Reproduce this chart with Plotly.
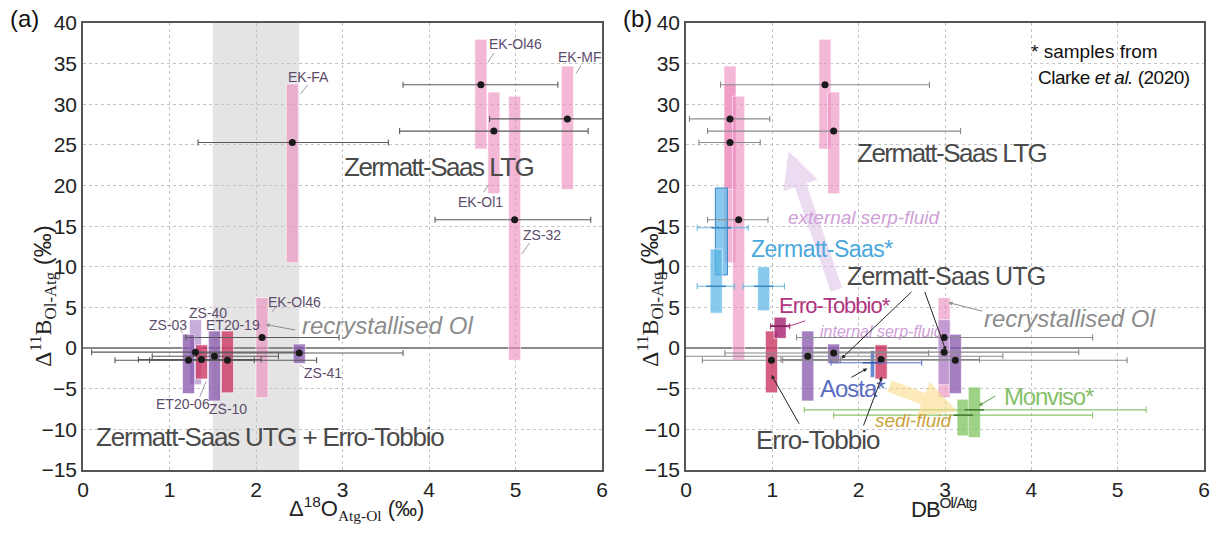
import plotly.graph_objects as go

# ---------------- data: this study ----------------
samples = ["EK-FA", "EK-Ol46", "EK-Ol1", "EK-MF", "ZS-32", "EK-Ol46r",
           "ZS-40", "ZS-03", "ET20-06", "ZS-10", "ET20-19", "ZS-41"]
groups = ["LTG", "LTG", "LTG", "LTG", "LTG", "LTG",
          "ZS-light", "ZS", "ET", "ZS", "ET", "ZS"]
d18O = [2.42, 4.60, 4.75, 5.60, 4.99, 2.07, 1.30, 1.22, 1.37, 1.52, 1.67, 2.50]
d18O_lo = [1.33, 3.70, 3.66, 4.70, 4.07, 1.19, 0.10, 0.37, 0.64, 0.80, 0.77, 1.30]
d18O_hi = [3.53, 5.49, 5.84, 6.90, 5.87, 2.96, 2.50, 1.98, 2.06, 2.26, 2.70, 3.70]
dB = [25.3, 32.4, 26.7, 28.2, 15.8, 1.3, -0.5, -1.5, -1.4, -1.0, -1.5, -0.6]
dB_lo = [10.5, 24.5, 19.0, 19.5, -1.5, -6.1, -4.5, -5.6, -3.8, -6.5, -5.5, -1.9]
dB_hi = [32.5, 38.0, 31.5, 34.7, 31.0, 6.2, 3.5, 1.7, 0.4, 2.1, 2.1, 0.5]
DB = [0.51, 1.61, 1.71, 0.51, 0.61, 2.99, 2.99, 3.12, 2.26, 1.41, 0.99, 1.71]
DB_lo = [0.15, 0.40, 0.25, 0.04, 0.25, 1.28, 1.43, 1.12, 1.10, -0.85, 0.19, 0.45]
DB_hi = [0.86, 2.82, 3.18, 0.97, 0.95, 4.71, 4.55, 5.11, 3.40, 3.67, 1.79, 2.81]

# ---------------- data: Clarke et al. (2020) ----------------
c_groups = ["Zermatt-Saas*", "Zermatt-Saas*", "Zermatt-Saas*", "Erro-Tobbio*",
            "Aosta*", "Monviso*", "Monviso*"]
c_DB = [0.41, 0.35, 0.90, 1.09, 2.16, 3.21, 3.34]
c_DB_lo = [0.13, 0.13, 0.66, 0.98, 1.68, 1.71, 1.37]
c_DB_hi = [0.72, 0.56, 1.14, 1.20, 2.73, 4.71, 5.33]
c_dB = [14.8, 7.6, 7.6, 2.7, -1.8, -8.25, -7.6]
c_dB_lo = [9.0, 4.3, 4.6, 1.2, -3.6, -10.8, -11.0]
c_dB_hi = [19.7, 12.2, 10.0, 3.8, -0.3, -6.3, -4.8]

# ---------------- styles ----------------
FONT = "Liberation Sans, Arial, sans-serif"
bar_fill = {"LTG": "rgba(238,140,190,0.62)", "ZS": "rgba(135,85,172,0.75)",
            "ZS-light": "rgba(178,145,208,0.75)", "ET": "rgba(205,55,100,0.80)"}
c_fill = {"Zermatt-Saas*": "rgba(90,180,230,0.72)", "Erro-Tobbio*": "rgba(170,45,120,0.85)",
          "Aosta*": "rgba(70,115,205,0.85)", "Monviso*": "rgba(125,195,95,0.75)"}
c_dark = {"Zermatt-Saas*": "#3a86c6", "Erro-Tobbio*": "#7a1f58",
          "Aosta*": "#3a56a8", "Monviso*": "#3f7a2c"}
c_err = {"Zermatt-Saas*": "#6ab6e2", "Erro-Tobbio*": "#b0407f",
         "Aosta*": "#5b72c4", "Monviso*": "#8cc46e"}
c_width = {"Zermatt-Saas*": 0.14, "Erro-Tobbio*": 0.14, "Aosta*": 0.05, "Monviso*": 0.14}

fig = go.Figure()

# gray band (panel a)
fig.add_shape(type="rect", xref="x", yref="y domain", x0=1.5, x1=2.5, y0=0, y1=1,
              fillcolor="#e4e4e4", line_width=0, layer="below")


def add_bars(xs, lo, hi, fills, widths, lines, xa, ya):
    fig.add_trace(go.Bar(x=xs, y=[h - l for h, l in zip(hi, lo)], base=lo, width=widths,
                         marker=dict(color=fills, line=dict(color=lines, width=1)),
                         xaxis=xa, yaxis=ya, showlegend=False, hoverinfo="skip"))


def add_points(xs, ys, xlo, xhi, xa, ya, color="#7a7a7a", marker=None):
    fig.add_trace(go.Scatter(
        x=xs, y=ys, mode="markers", xaxis=xa, yaxis=ya, showlegend=False,
        marker=marker or dict(color="#1a1a1a", size=7),
        error_x=dict(type="data", symmetric=False,
                     array=[h - x for h, x in zip(xhi, xs)],
                     arrayminus=[x - l for l, x in zip(xlo, xs)],
                     color=color, thickness=1.1, width=3)))


fills = [bar_fill[g] for g in groups]
wl = [0.14] * len(samples)
lines = ["rgba(255,255,255,0.6)"] * len(samples)

# panel a
add_bars(d18O, dB_lo, dB_hi, fills, wl, lines, "x", "y")
add_points(d18O, dB, d18O_lo, d18O_hi, "x", "y", color="#5a5a5a")

# panel b
add_bars(DB, dB_lo, dB_hi, fills, wl, lines, "x2", "y2")
cfills = [c_fill[g] for g in c_groups]
cw = [c_width[g] for g in c_groups]
clines = ["#3a86c6" if (g == "Zermatt-Saas*" and i == 0) else "rgba(255,255,255,0.6)"
          for i, g in enumerate(c_groups)]
add_bars(c_DB, c_dB_lo, c_dB_hi, cfills, cw, clines, "x2", "y2")
add_points(DB, dB, DB_lo, DB_hi, "x2", "y2", color="#8a8a8a")
for g in ["Zermatt-Saas*", "Erro-Tobbio*", "Aosta*", "Monviso*"]:
    idx = [i for i, gg in enumerate(c_groups) if gg == g]
    add_points([c_DB[i] for i in idx], [c_dB[i] for i in idx],
               [c_DB_lo[i] for i in idx], [c_DB_hi[i] for i in idx], "x2", "y2",
               color=c_err[g],
               marker=dict(symbol="line-ew", size=14, line=dict(color=c_dark[g], width=1.5)))

# ---------------- annotations ----------------
ann = []


def cond(t, ls):
    return "<span style='letter-spacing:%spx'>%s</span>" % (ls, t)


def text(x, y, t, size, color, xref="x", yref="y", italic=False, family=FONT, **kw):
    if italic:
        t = "<i>" + t + "</i>"
    kw.setdefault("xanchor", "center")
    kw.setdefault("yanchor", "middle")
    ann.append(dict(x=x, y=y, xref=xref, yref=yref, text=t, showarrow=False,
                    font=dict(size=size, color=color, family=family), **kw))


def arrow(x0, y0, x1, y1, xr, yr, color="#222", width=1, head=2, size=1.0):
    ann.append(dict(x=x1, y=y1, ax=x0, ay=y0, xref=xr, yref=yr, axref=xr, ayref=yr,
                    text="", showarrow=True, arrowhead=head, arrowwidth=width,
                    arrowcolor=color, arrowsize=size, standoff=0, startstandoff=0))


# panel letters
text(24, 19, "(a)", 24, "#111", xref="paper", yref="paper")
text(637, 19, "(b)", 24, "#111", xref="paper", yref="paper")

LBL = "#5d4b6b"
# panel a sample labels
for x, y, t in [(2.61, 33.4, "EK-FA"), (5.0, 37.4, "EK-Ol46"), (5.74, 35.8, "EK-MF"),
                (4.59, 18.0, "EK-Ol1"), (5.31, 13.9, "ZS-32"), (1.44, 4.3, "ZS-40"),
                (0.98, 2.8, "ZS-03"), (1.73, 2.8, "ET20-19"), (2.44, 5.7, "EK-Ol46"),
                (1.16, -6.9, "ET20-06"), (1.68, -7.5, "ZS-10"), (2.77, -3.1, "ZS-41")]:
    text(x, y, t, 14, LBL)
for x0, y0, x1, y1 in [(2.50, 31.1, 2.60, 32.4), (4.67, 35.0, 4.75, 36.3),
                       (5.69, 33.6, 5.76, 34.8), (4.62, 19.0, 4.69, 20.1),
                       (5.06, 11.4, 5.16, 12.9), (2.18, 4.3, 2.24, 5.3),
                       (1.43, -3.9, 1.35, -6.0), (1.58, -6.6, 1.64, -7.0),
                       (2.49, -1.9, 2.56, -2.5), (1.36, 3.5, 1.40, 3.9),
                       (1.74, 2.1, 1.78, 2.5), (1.16, 1.7, 1.13, 2.2)]:
    arrow(x0, y0, x1, y1, "x", "y", color="#8a7c94", width=0.8, head=0)

text(4.11, 22.3, cond("Zermatt-Saas LTG", -1.5), 26, "#4a4a4a")
text(2.16, -10.9, cond("Zermatt-Saas UTG + Erro-Tobbio", -1.2), 26, "#4a4a4a")
text(3.52, 2.8, "recrystallised Ol", 24, "#8c8c8c", italic=True)
arrow(2.47, 2.2, 2.11, 2.9, "x", "y", color="#8c8c8c", width=1, head=2, size=0.8)

# panel b
arrow(1.75, 7.0, 1.19, 24.2, "x2", "y2", color="rgba(220,192,232,0.55)", width=12, head=2, size=0.6)
arrow(2.34, -4.6, 3.14, -7.8, "x2", "y2", color="rgba(250,218,130,0.55)", width=12, head=2, size=0.6)

text(1160, 51, "* samples from", 19, "#111", xref="paper", yref="paper", xanchor="right")
text(1192, 77, cond("Clarke <i>et al.</i> (2020)", -0.5), 19, "#111", xref="paper",
     yref="paper", xanchor="right")
text(3.08, 24.0, cond("Zermatt-Saas LTG", -1.5), 26, "#4a4a4a", xref="x2", yref="y2")
text(2.06, 16.1, "external serp-fluid", 19, "#cfa0d8", xref="x2", yref="y2", italic=True)
text(1.58, 12.2, cond("Zermatt-Saas*", -0.5), 23, "#4aa8dc", xref="x2", yref="y2")
text(3.01, 8.9, cond("Zermatt-Saas UTG", -0.8), 25, "#4a4a4a", xref="x2", yref="y2")
text(1.73, 5.2, cond("Erro-Tobbio*", -1), 22, "#b0367f", xref="x2", yref="y2")
text(2.27, 2.1, "internal serp-fluid", 16, "#cfa0d8", xref="x2", yref="y2", italic=True)
text(4.44, 3.7, "recrystallised Ol", 24, "#8c8c8c", xref="x2", yref="y2", italic=True)
text(1.93, -5.0, cond("Aosta*", -1), 24, "#5a6cc0", xref="x2", yref="y2")
text(4.2, -6.0, cond("Monviso*", -1.2), 24, "#86c06a", xref="x2", yref="y2")
text(2.64, -8.9, "sedi-fluid", 19, "#c9a23a", xref="x2", yref="y2", italic=True)
text(1.53, -11.3, cond("Erro-Tobbio", -1), 26, "#4a4a4a", xref="x2", yref="y2")

for x0, y0, x1, y1, col in [(2.63, 7.1, 1.80, -1.3, "#222"), (2.76, 7.1, 3.01, -0.3, "#222"),
                            (1.32, -9.5, 0.99, -3.3, "#222"), (2.05, -9.7, 2.27, -3.5, "#222"),
                            (1.90, -3.7, 2.10, -2.5, "#222"), (1.40, 3.4, 1.16, 2.6, "#b0367f"),
                            (3.60, -5.8, 3.39, -7.1, "#5f9a45"), (3.45, 4.5, 3.04, 5.6, "#8c8c8c")]:
    arrow(x0, y0, x1, y1, "x2", "y2", color=col, width=1, head=2, size=0.8)

# axis titles
ytitle = ("<span style='font-family:Liberation Serif'>Δ<sup>11</sup>B<sub>Ol-Atg</sub></span>"
          " (‰)")
text(43, 296, ytitle, 24, "#222", xref="paper", yref="paper", textangle=-90)
text(650, 296, ytitle, 24, "#222", xref="paper", yref="paper", textangle=-90)
text(357, 508, "Δ<sup>18</sup>O<sub><span style='font-family:Liberation Serif'>Atg-Ol</span></sub> (‰)",
     22, "#222", xref="paper", yref="paper")
text(944, 508, cond("DB<sup>Ol/Atg</sup>", -1), 22, "#222", xref="paper", yref="paper")

W, H = 1218, 536
# convert pixel-positioned paper annotations
for a in ann:
    if a.get("xref") == "paper" and a["x"] > 1.5:
        a["x"] = a["x"] / W
    if a.get("yref") == "paper" and a["y"] > 1.5:
        a["y"] = 1 - a["y"] / H

axis_common = dict(range=[0, 6], dtick=1, showline=True, mirror=True, linecolor="#555",
                   linewidth=1.5, showgrid=True, gridcolor="#c4c4c4", griddash="dot",
                   gridwidth=1, zeroline=False, ticks="", automargin=False,
                   tickfont=dict(size=21, color="#222", family=FONT))
yaxis_common = dict(range=[-15, 40], dtick=5, showline=True, mirror=True, linecolor="#555",
                    linewidth=1.5, showgrid=True, gridcolor="#c4c4c4", griddash="dot",
                    gridwidth=1, zeroline=True, zerolinecolor="#8a8a8a", zerolinewidth=1.6,
                    ticks="", automargin=False,
                    tickfont=dict(size=21, color="#222", family=FONT))
ydom = [1 - 470 / H, 1 - 23 / H]

fig.update_layout(
    width=W, height=H, margin=dict(l=0, r=0, t=0, b=0, autoexpand=False),
    paper_bgcolor="white", plot_bgcolor="rgba(0,0,0,0)", barmode="overlay",
    xaxis=dict(domain=[83 / W, 602 / W], anchor="y", **axis_common),
    yaxis=dict(domain=ydom, anchor="x", **yaxis_common),
    xaxis2=dict(domain=[686 / W, 1204 / W], anchor="y2", **axis_common),
    yaxis2=dict(domain=ydom, anchor="x2", **yaxis_common),
    annotations=ann, showlegend=False,
)

fig.write_html("out.html", config={"displayModeBar": False},
               post_script="document.body.style.margin='0';")
